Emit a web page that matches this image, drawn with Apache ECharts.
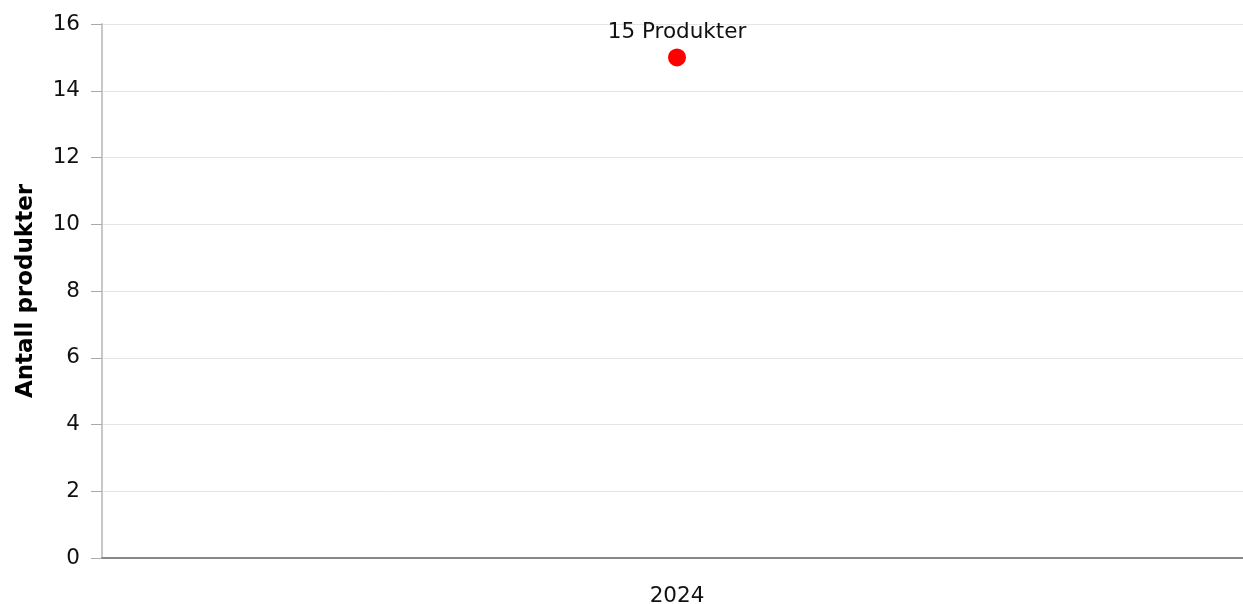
<!DOCTYPE html>
<html>
<head>
<meta charset="utf-8">
<script src="https://cdn.jsdelivr.net/npm/echarts@6/dist/echarts.min.js"></script>
<style>
  html, body { margin: 0; padding: 0; background: #fff; }
  #chart { width: 1243px; height: 604px; }
</style>
</head>
<body>
<div id="chart"></div>
<script>
// data
var years = ["2024"];
var antall = [15];
var yTicks = { min: 0, max: 16, interval: 2 };

var myChart = echarts.init(document.getElementById("chart"));
var font = "DejaVu Sans, Verdana, sans-serif";

var option = {
  animation: false,
  grid: { left: 102, right: -9, top: 24, bottom: 46, outerBoundsMode: "none", containLabel: false },
  xAxis: {
    type: "category",
    data: years,
    axisLine: { lineStyle: { color: "#888", width: 2 } },
    axisTick: { alignWithLabel: true, length: 8, lineStyle: { color: "#aaa" } },
    axisLabel: { color: "#111", fontSize: 21.5, fontFamily: font, margin: 27 }
  },
  yAxis: {
    type: "value",
    min: yTicks.min,
    max: yTicks.max,
    interval: yTicks.interval,
    name: "Antall produkter",
    nameLocation: "middle",
    nameGap: 64,
    nameTextStyle: { color: "#000", fontSize: 23, fontWeight: "bold", fontFamily: font },
    axisLine: { show: true, lineStyle: { color: "#c8c8c8", width: 2 } },
    axisTick: { show: true, length: 11, lineStyle: { color: "#aaa" } },
    axisLabel: { color: "#111", fontSize: 21.5, fontFamily: font, margin: 22 },
    splitLine: { lineStyle: { color: "#e4e4e4" } }
  },
  series: [
    {
      type: "scatter",
      data: antall,
      symbolSize: 18,
      itemStyle: { color: "#ff0000", opacity: 1 },
      label: {
        show: true,
        position: "top",
        distance: 5,
        formatter: "{c} Produkter",
        color: "#111",
        fontSize: 21.5,
        fontFamily: font
      }
    }
  ]
};

// 绘制图表
myChart.setOption(option);
</script>
</body>
</html>
